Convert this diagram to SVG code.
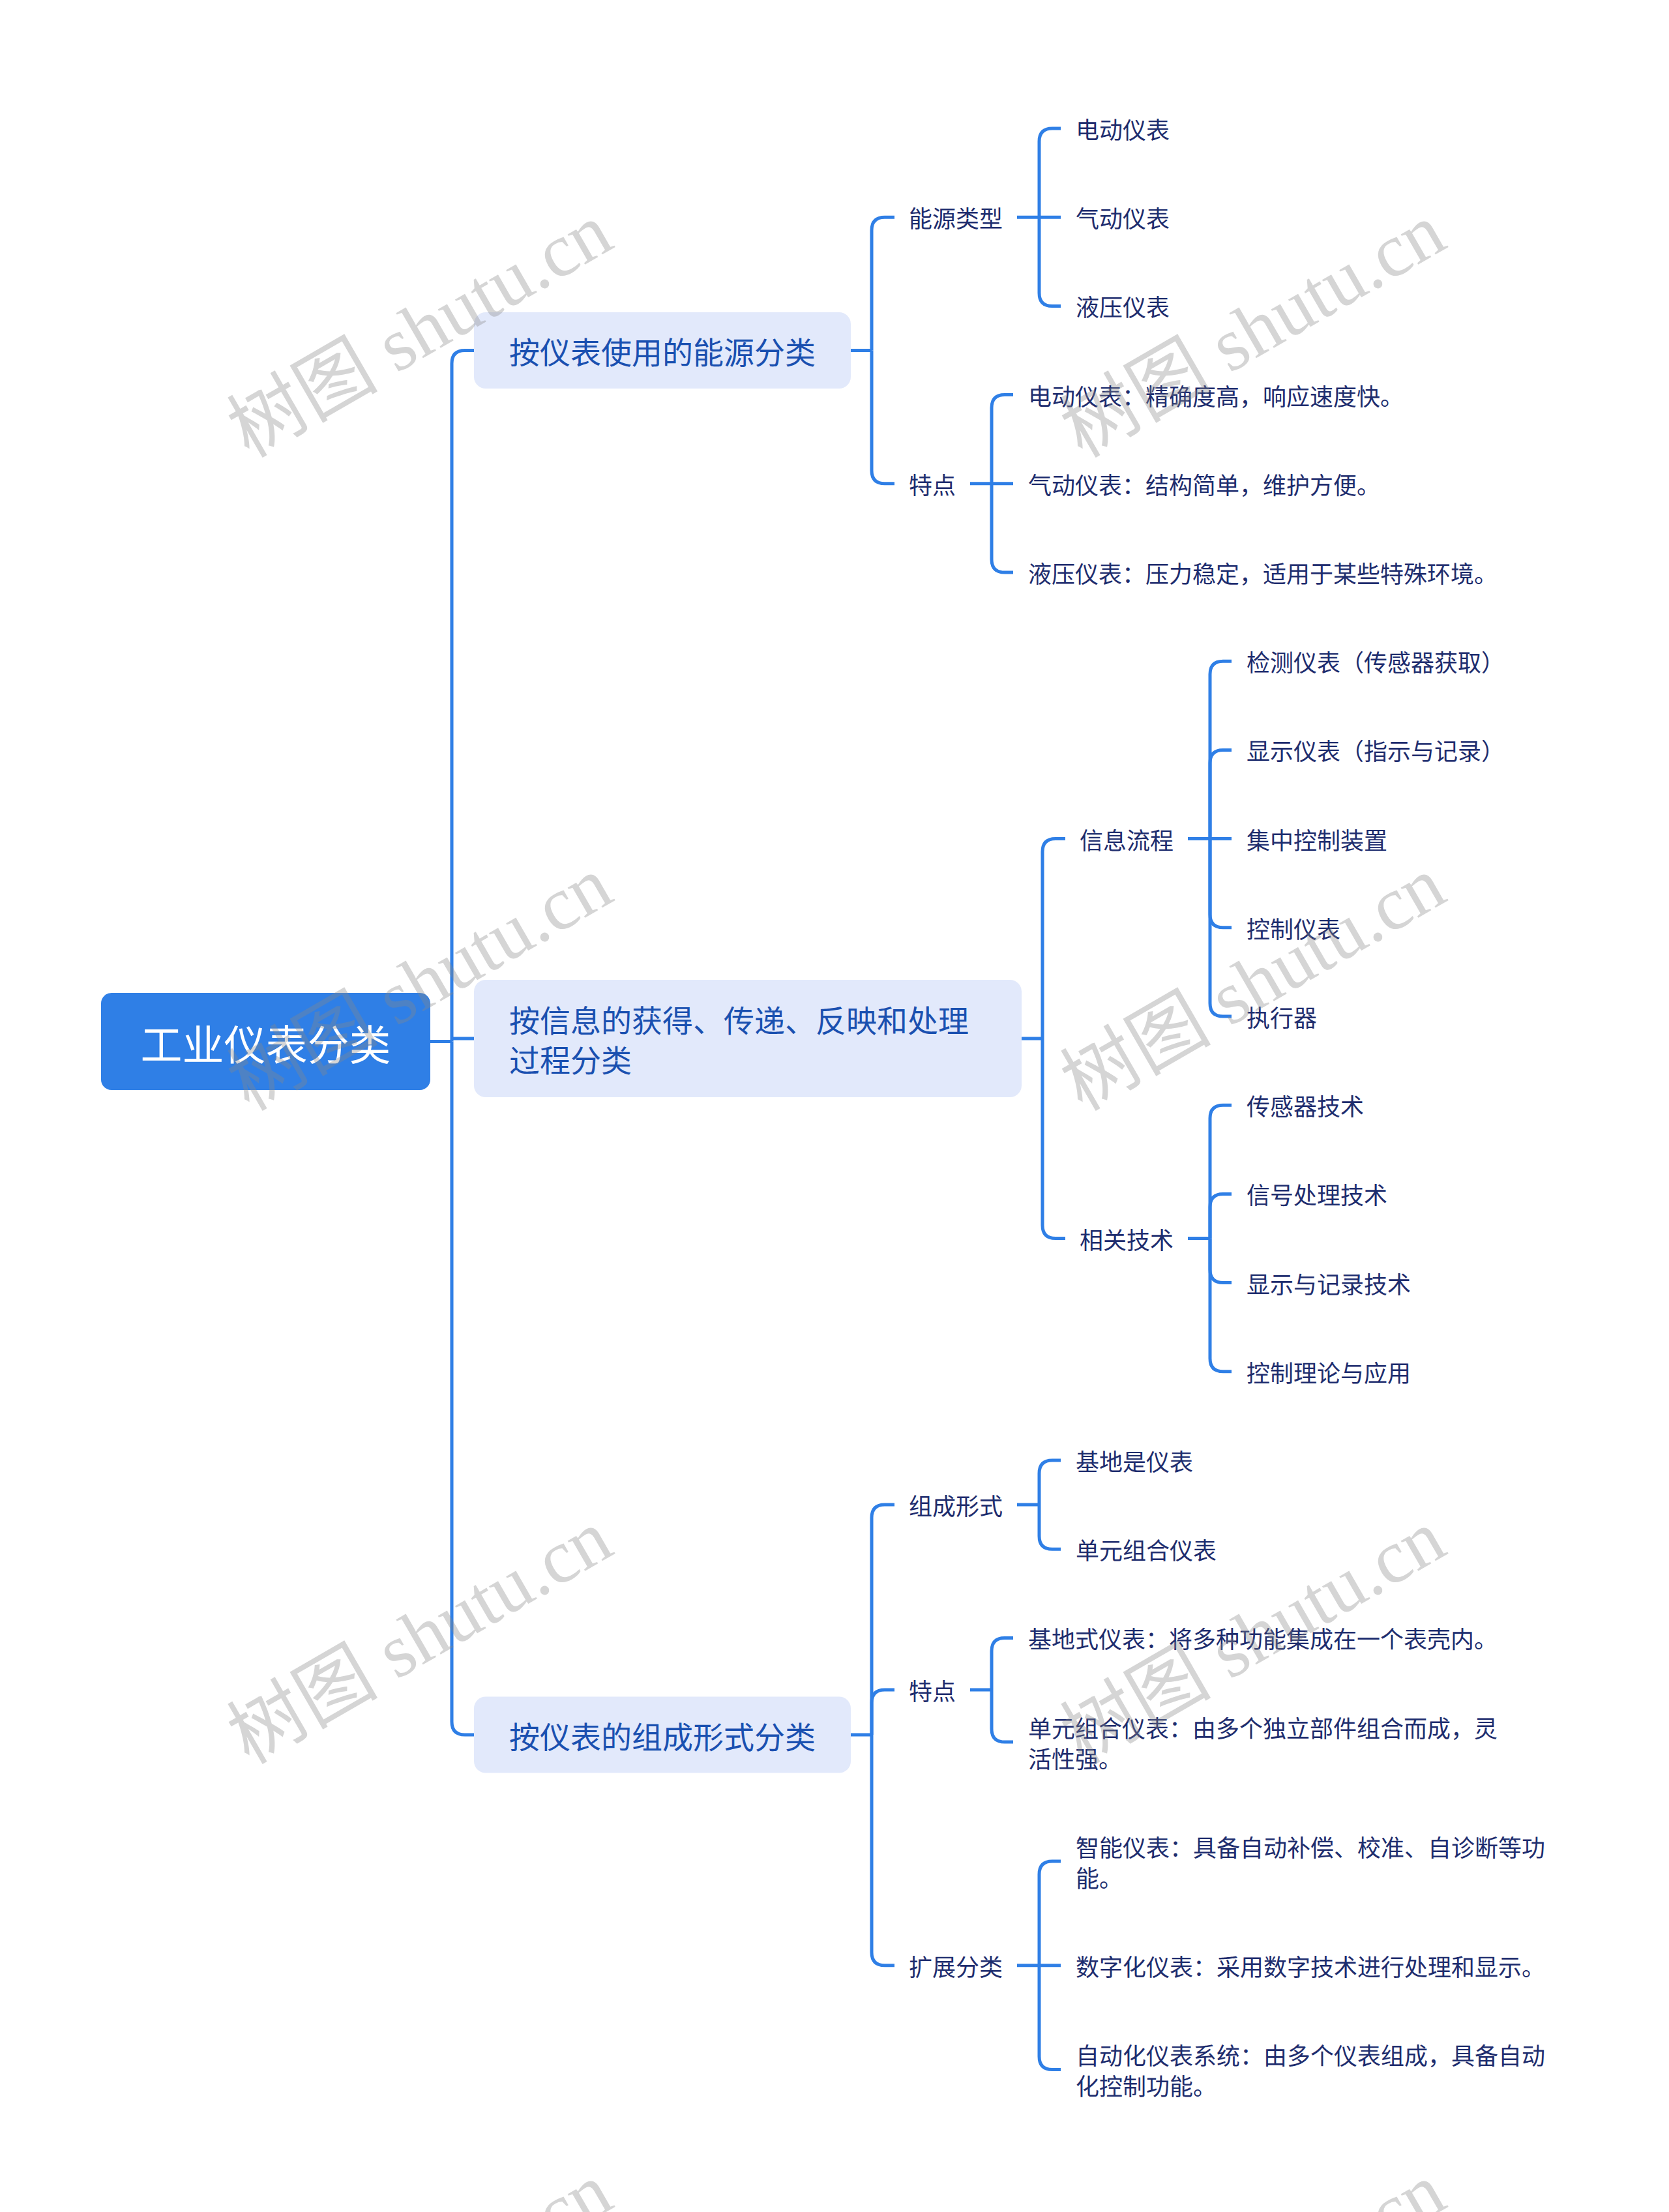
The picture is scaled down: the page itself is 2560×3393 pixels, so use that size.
<svg xmlns="http://www.w3.org/2000/svg" width="2560" height="3393" viewBox="0 0 2560 3393">
<style>
text{font-family:"Noto Sans CJK SC","Noto Sans",sans-serif;dominant-baseline:central}
.root{font-size:64px;fill:#ffffff}
.l1{font-size:47px;fill:#1a50b0}
.t{font-size:36px;fill:#1e2d6e}
.rootbox{fill:#2f7fe6}
.l1box{fill:#e2e9fb}
#connectors path{fill:none;stroke:#2f7fe6;stroke-width:5;stroke-linecap:butt;stroke-linejoin:round}
.wm{font-family:"Liberation Serif","Noto Sans CJK SC",serif;font-size:116px;fill:#888888;opacity:0.35;text-anchor:middle}
</style>
<rect width="2560" height="3393" fill="#ffffff"/>
<g id="connectors">
<path d="M660 1597.5H693"/>
<path d="M693 1597.5V557.5Q693 537.5 713 537.5H727"/>
<path d="M693 1593H727"/>
<path d="M693 1597.5V2641Q693 2661 713 2661H727"/>
<path d="M1305 537.5H1337"/>
<path d="M1337 537.5V353.2Q1337 333.2 1357 333.2H1372"/>
<path d="M1337 537.5V721.8Q1337 741.8 1357 741.8H1372"/>
<path d="M1560 333.2H1594"/>
<path d="M1594 333.2V217Q1594 197 1614 197H1627"/>
<path d="M1594 333.2H1627"/>
<path d="M1594 333.2V449.4Q1594 469.4 1614 469.4H1627"/>
<path d="M1488 741.8H1521"/>
<path d="M1521 741.8V625.6Q1521 605.6 1541 605.6H1554"/>
<path d="M1521 741.8H1554"/>
<path d="M1521 741.8V858Q1521 878 1541 878H1554"/>
<path d="M1567 1593H1599"/>
<path d="M1599 1593V1306.6Q1599 1286.6 1619 1286.6H1634"/>
<path d="M1599 1593V1879.5Q1599 1899.5 1619 1899.5H1634"/>
<path d="M1822 1286.6H1856"/>
<path d="M1856 1286.6V1034.2Q1856 1014.2 1876 1014.2H1889"/>
<path d="M1856 1286.6V1170.4Q1856 1150.4 1876 1150.4H1889"/>
<path d="M1856 1286.6H1889"/>
<path d="M1856 1286.6V1402.8Q1856 1422.8 1876 1422.8H1889"/>
<path d="M1856 1286.6V1539Q1856 1559 1876 1559H1889"/>
<path d="M1822 1899.5H1856"/>
<path d="M1856 1899.5V1715.2Q1856 1695.2 1876 1695.2H1889"/>
<path d="M1856 1899.5V1851.4Q1856 1831.4 1876 1831.4H1889"/>
<path d="M1856 1899.5V1947.6Q1856 1967.6 1876 1967.6H1889"/>
<path d="M1856 1899.5V2083.8Q1856 2103.8 1876 2103.8H1889"/>
<path d="M1305 2661H1337"/>
<path d="M1337 2661V2328Q1337 2308 1357 2308H1372"/>
<path d="M1337 2661V2612Q1337 2592 1357 2592H1372"/>
<path d="M1337 2661V2994.7Q1337 3014.7 1357 3014.7H1372"/>
<path d="M1560 2308H1594"/>
<path d="M1594 2308V2260Q1594 2240 1614 2240H1627"/>
<path d="M1594 2308V2356.2Q1594 2376.2 1614 2376.2H1627"/>
<path d="M1488 2592H1521"/>
<path d="M1521 2592V2532.4Q1521 2512.4 1541 2512.4H1554"/>
<path d="M1521 2592V2652Q1521 2672 1541 2672H1554"/>
<path d="M1560 3014.7H1594"/>
<path d="M1594 3014.7V2875Q1594 2855 1614 2855H1627"/>
<path d="M1594 3014.7H1627"/>
<path d="M1594 3014.7V3154.4Q1594 3174.4 1614 3174.4H1627"/>
</g>
<g id="root"><rect class="rootbox" x="155" y="1523" width="505" height="149" rx="16"/><text class="root" x="407.5" y="1597.5" text-anchor="middle">工业仪表分类</text></g>
<g id="n1"><rect class="l1box" x="727" y="479" width="578" height="117" rx="18"/><text class="l1" x="781" y="537.5">按仪表使用的能源分类</text></g>
<g id="n2"><rect class="l1box" x="727" y="1503" width="840" height="180" rx="18"/><text class="l1" x="781" y="1562.5">按信息的获得、传递、反映和处理</text><text class="l1" x="781" y="1623.5">过程分类</text></g>
<g id="n3"><rect class="l1box" x="727" y="2602.5" width="578" height="117" rx="18"/><text class="l1" x="781" y="2661">按仪表的组成形式分类</text></g>
<g id="n1a"><text class="t" x="1394" y="333.2">能源类型</text></g>
<g id="n1a1"><text class="t" x="1650" y="197">电动仪表</text></g>
<g id="n1a2"><text class="t" x="1650" y="333.2">气动仪表</text></g>
<g id="n1a3"><text class="t" x="1650" y="469.4">液压仪表</text></g>
<g id="n1b"><text class="t" x="1394" y="741.8">特点</text></g>
<g id="n1b1"><text class="t" x="1577" y="605.6">电动仪表：精确度高，响应速度快。</text></g>
<g id="n1b2"><text class="t" x="1577" y="741.8">气动仪表：结构简单，维护方便。</text></g>
<g id="n1b3"><text class="t" x="1577" y="878">液压仪表：压力稳定，适用于某些特殊环境。</text></g>
<g id="n2a"><text class="t" x="1656" y="1286.6">信息流程</text></g>
<g id="n2a1"><text class="t" x="1912" y="1014.2">检测仪表（传感器获取）</text></g>
<g id="n2a2"><text class="t" x="1912" y="1150.4">显示仪表（指示与记录）</text></g>
<g id="n2a3"><text class="t" x="1912" y="1286.6">集中控制装置</text></g>
<g id="n2a4"><text class="t" x="1912" y="1422.8">控制仪表</text></g>
<g id="n2a5"><text class="t" x="1912" y="1559">执行器</text></g>
<g id="n2b"><text class="t" x="1656" y="1899.5">相关技术</text></g>
<g id="n2b1"><text class="t" x="1912" y="1695.2">传感器技术</text></g>
<g id="n2b2"><text class="t" x="1912" y="1831.4">信号处理技术</text></g>
<g id="n2b3"><text class="t" x="1912" y="1967.6">显示与记录技术</text></g>
<g id="n2b4"><text class="t" x="1912" y="2103.8">控制理论与应用</text></g>
<g id="n3a"><text class="t" x="1394" y="2308">组成形式</text></g>
<g id="n3a1"><text class="t" x="1650" y="2240">基地是仪表</text></g>
<g id="n3a2"><text class="t" x="1650" y="2376.2">单元组合仪表</text></g>
<g id="n3b"><text class="t" x="1394" y="2592">特点</text></g>
<g id="n3b1"><text class="t" x="1577" y="2512.4">基地式仪表：将多种功能集成在一个表壳内。</text></g>
<g id="n3b2"><text class="t" x="1577" y="2648.5">单元组合仪表：由多个独立部件组合而成，灵</text><text class="t" x="1577" y="2695.5">活性强。</text></g>
<g id="n3c"><text class="t" x="1394" y="3014.7">扩展分类</text></g>
<g id="n3c1"><text class="t" x="1650" y="2831.5">智能仪表：具备自动补偿、校准、自诊断等功</text><text class="t" x="1650" y="2878.5">能。</text></g>
<g id="n3c2"><text class="t" x="1650" y="3014.7">数字化仪表：采用数字技术进行处理和显示。</text></g>
<g id="n3c3"><text class="t" x="1650" y="3151">自动化仪表系统：由多个仪表组成，具备自动</text><text class="t" x="1650" y="3198">化控制功能。</text></g>
<g id="watermarks">
<text class="wm" transform="translate(644 507) rotate(-30)">树图 shutu.cn</text>
<text class="wm" transform="translate(1922 507) rotate(-30)">树图 shutu.cn</text>
<text class="wm" transform="translate(644 1509) rotate(-30)">树图 shutu.cn</text>
<text class="wm" transform="translate(1922 1509) rotate(-30)">树图 shutu.cn</text>
<text class="wm" transform="translate(644 2511) rotate(-30)">树图 shutu.cn</text>
<text class="wm" transform="translate(1922 2511) rotate(-30)">树图 shutu.cn</text>
<text class="wm" transform="translate(644 3513) rotate(-30)">树图 shutu.cn</text>
<text class="wm" transform="translate(1922 3513) rotate(-30)">树图 shutu.cn</text>
</g>
</svg>
